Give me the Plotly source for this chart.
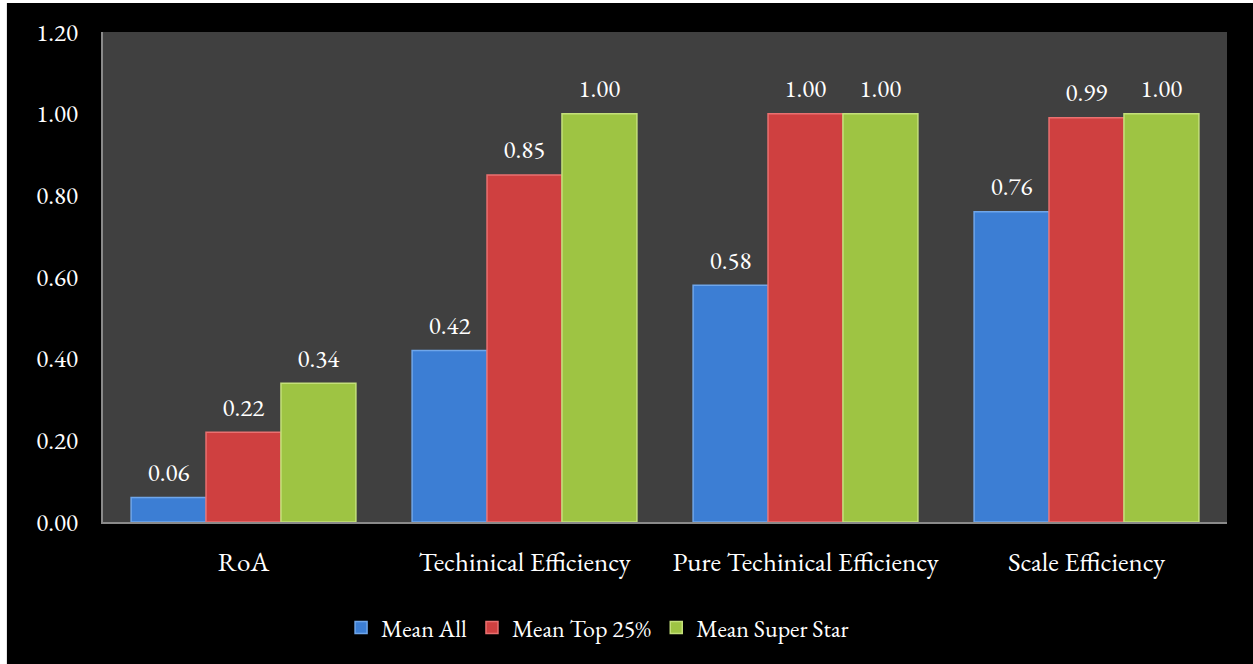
import plotly.graph_objects as go

categories = ["RoA", "Techinical Efficiency", "Pure Techinical Efficiency", "Scale Efficiency"]
mean_all = [0.06, 0.42, 0.58, 0.76]
mean_top25 = [0.22, 0.85, 1.00, 0.99]
mean_superstar = [0.34, 1.00, 1.00, 1.00]
series_names = ["Mean All", "Mean Top 25%", "Mean Super Star"]
y_ticks = [0.0, 0.2, 0.4, 0.6, 0.8, 1.0, 1.2]

colors = ["#3c7ed4", "#cf4040", "#9ec443"]
edge = ["#6fa6ea", "#ea7070", "#c4e07a"]
font_family = "Garamond, 'EB Garamond', 'Liberation Serif', serif"

fig = go.Figure()
series = [mean_all, mean_top25, mean_superstar]
for i, (name, vals, c, e) in enumerate(zip(series_names, series, colors, edge)):
    fig.add_trace(go.Bar(
        x=categories, y=vals, name=name, offsetgroup=str(i),
        marker=dict(color=c, line=dict(color=e, width=1.5)),
    ))
for i, vals in enumerate(series):
    fig.add_trace(go.Scatter(
        x=categories, y=vals, offsetgroup=str(i), mode="markers+text",
        marker=dict(size=15, opacity=0),
        text=[f"{v:.2f}" for v in vals], textposition="top center",
        textfont=dict(color="white", size=25, family=font_family),
        showlegend=False, hoverinfo="skip", cliponaxis=False,
    ))

fig.update_layout(
    width=1253, height=664,
    margin=dict(l=103, r=26, t=32, b=142),
    paper_bgcolor="black", plot_bgcolor="#404040",
    barmode="group", bargap=0.2, bargroupgap=0,
    scattermode="group", scattergap=0.2,
    font=dict(family=font_family, color="white", size=24),
    xaxis=dict(showline=True, linecolor="#8a8a8a", linewidth=2, ticks="",
               tickfont=dict(size=27, color="white"), ticklabelstandoff=15),
    yaxis=dict(range=[0, 1.2], tickvals=y_ticks, tickformat=".2f", showgrid=False,
               zeroline=False, showline=True, linecolor="#8a8a8a", linewidth=2, ticks="",
               tickfont=dict(size=25, color="white"), ticklabelstandoff=18),
    legend=dict(orientation="h", x=0.44, xanchor="center", y=-0.216, yanchor="middle",
                font=dict(size=24, color="white"), itemwidth=30, traceorder="normal"),
    showlegend=True,
    shapes=[
        dict(type="rect", xref="paper", yref="paper", x0=-0.0917, x1=-0.0855, y0=-0.3, y1=1.07,
             fillcolor="white", line=dict(width=0)),
        dict(type="rect", xref="paper", yref="paper", x0=-0.0917, x1=1.03, y0=1.0592, y1=1.07,
             fillcolor="white", line=dict(width=0)),
    ],
)

fig.write_html("out.html")
